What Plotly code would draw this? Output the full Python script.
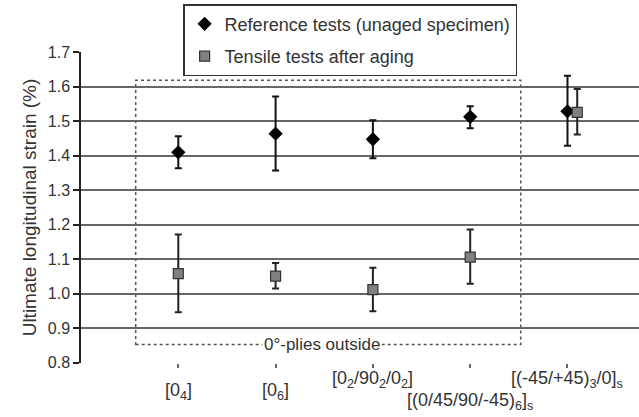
import plotly.graph_objects as go
import numpy as np

categories = ["[0<sub>4</sub>]", "[0<sub>6</sub>]", "[0<sub>2</sub>/90<sub>2</sub>/0<sub>2</sub>]",
              "[(0/45/90/-45)<sub>6</sub>]<sub>s</sub>", "[(-45/+45)<sub>3</sub>/0]<sub>s</sub>"]
label_y = [-0.092, -0.092, -0.054, -0.125, -0.054]   # vertical placement of category labels (paper)
ref_mean = [1.41, 1.464, 1.448, 1.513, 1.529]
ref_upper = [1.457, 1.572, 1.503, 1.544, 1.632]
ref_lower = [1.364, 1.357, 1.393, 1.480, 1.429]
aged_mean = [1.058, 1.051, 1.012, 1.106, 1.526]
aged_upper = [1.172, 1.089, 1.075, 1.186, 1.594]
aged_lower = [0.946, 1.015, 0.949, 1.029, 1.462]
y_ticks = [0.8, 0.9, 1.0, 1.1, 1.2, 1.3, 1.4, 1.5, 1.6, 1.7]

xpos = np.arange(1, len(categories) + 1, dtype=float)
aged_shift = np.array([0, 0, 0, 0, 0.1])

ref_mean_a = np.array(ref_mean)
aged_mean_a = np.array(aged_mean)

font = "Liberation Sans, Arial, sans-serif"
txt = "#333"
fig = go.Figure()
fig.add_trace(go.Scatter(
    x=xpos, y=ref_mean_a, mode="markers", name="Reference tests (unaged specimen)",
    legendgroup="a",
    marker=dict(symbol="diamond", size=11, color="black"),
    error_y=dict(type="data", symmetric=False,
                 array=np.array(ref_upper) - ref_mean_a,
                 arrayminus=ref_mean_a - np.array(ref_lower),
                 color="#111", thickness=2, width=3.5),
))
fig.add_trace(go.Scatter(
    x=xpos + aged_shift, y=aged_mean_a, mode="markers", name="Tensile tests after aging",
    legendgroup="b",
    marker=dict(symbol="square", size=10, color="#808080", line=dict(color="#333", width=1.2)),
    error_y=dict(type="data", symmetric=False,
                 array=np.array(aged_upper) - aged_mean_a,
                 arrayminus=aged_mean_a - np.array(aged_lower),
                 color="#222", thickness=2, width=3.5),
))

# dotted box "0°-plies outside"
fig.add_shape(type="rect", x0=0.562, x1=4.52, y0=0.853, y1=1.619,
              line=dict(color="#555", width=1.5, dash="dot"), layer="below")
fig.add_annotation(x=2.48, y=0.853, text="0°-plies outside", showarrow=False,
                   font=dict(family=font, size=17, color=txt), bgcolor="white",
                   borderpad=1)

# category labels
for xc, lab, ly in zip(xpos, categories, label_y):
    fig.add_annotation(x=xc, y=ly, xref="x", yref="paper", text=lab, showarrow=False,
                       xanchor="center", yanchor="middle",
                       font=dict(family=font, size=18, color=txt))

fig.update_layout(
    width=639, height=417,
    margin=dict(l=81, r=0, t=52, b=54),
    plot_bgcolor="white", paper_bgcolor="white",
    font=dict(family=font, size=16, color=txt),
    showlegend=True,
    legend=dict(x=0.183, y=1.154, xanchor="left", yanchor="top",
                bgcolor="white", bordercolor="#333", borderwidth=1.5,
                font=dict(family=font, size=18, color=txt),
                traceorder="grouped", tracegroupgap=6),
    xaxis=dict(range=[0, 5.735], tickvals=xpos, showticklabels=False,
               showgrid=False, zeroline=False, showline=False,
               ticks="outside", ticklen=4, tickcolor="#666", tickwidth=1.5),
    yaxis=dict(range=[0.799, 1.701], tickvals=y_ticks,
               ticktext=[f"{v:.1f}" for v in y_ticks],
               showgrid=True, gridcolor="#666", gridwidth=1.6,
               zeroline=False, showline=True, linecolor="#222", linewidth=1.5,
               ticks="outside", ticklen=6, tickcolor="#222", tickwidth=1.5,
               title=dict(text="Ultimate longitudinal strain (%)", standoff=6,
                          font=dict(size=19, color=txt))),
)
fig.write_html("out.html")
